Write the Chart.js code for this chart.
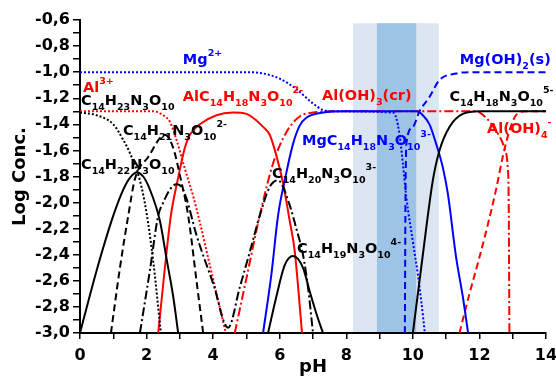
<!DOCTYPE html>
<html lang="en">
<head>
<meta charset="UTF-8">
<title>Speciation Al / Mg</title>
<script src="https://cdn.jsdelivr.net/npm/chart.js@4.4.0/dist/chart.umd.min.js"></script>
<style>
  html, body { margin: 0; padding: 0; background: #fff; }
</style>
</head>
<body>
<canvas id="myChart" width="556" height="378"></canvas>
<script>
// ---- data (pH, log conc.) ----
const phH5L  = [0, 0.5, 1.0, 1.3, 1.5, 1.8, 2.0, 2.2, 2.43];
const logH5L = [-1.31, -1.33, -1.40, -1.52, -1.62, -1.83, -2.08, -2.45, -3.0];

const phH4L  = [0, 0.5, 1.0, 1.3, 1.5, 1.7, 1.9, 2.1, 2.4, 2.6, 2.8, 2.95];
const logH4L = [-3.0, -2.52, -2.1, -1.9, -1.81, -1.77, -1.8, -1.9, -2.14, -2.43, -2.72, -3.0];

const phH3L  = [0.93, 1.2, 1.45, 1.65, 2.05, 2.55, 2.8, 3.0, 3.25, 3.5, 3.7];
const logH3L = [-3.0, -2.5, -2.1, -1.82, -1.65, -1.48, -1.58, -1.79, -2.1, -2.6, -3.0];

const phH2L  = [1.8, 2.1, 2.35, 2.5, 2.7, 2.9, 3.05, 3.2, 3.5, 4.0, 4.45, 4.8, 5.1, 5.4, 5.7, 5.95, 6.3, 6.5, 6.7, 6.85, 7.0];
const logH2L = [-3.0, -2.52, -2.1, -2.0, -1.9, -1.86, -1.88, -1.97, -2.25, -2.62, -2.96, -2.65, -2.38, -2.1, -1.88, -1.83, -2.02, -2.2, -2.4, -2.65, -3.0];

const phHL   = [5.65, 5.9, 6.15, 6.4, 6.7, 6.9, 7.1, 7.3];
const logHL  = [-3.0, -2.72, -2.48, -2.41, -2.5, -2.68, -2.85, -3.0];

const phL    = [10.0, 10.3, 10.6, 10.8, 11.1, 11.5, 12.0, 14.0];
const logL   = [-3.0, -2.4, -1.83, -1.6, -1.42, -1.32, -1.3, -1.3];

const phMg   = [0, 5.0, 5.5, 6.0, 6.5, 7.0, 7.3, 7.6, 9.4, 9.5, 9.6, 9.7, 9.8, 10.0, 10.15, 10.25, 10.36];
const logMg  = [-1.0, -1.0, -1.01, -1.05, -1.13, -1.24, -1.29, -1.3, -1.31, -1.35, -1.48, -1.7, -1.95, -2.3, -2.55, -2.75, -3.0];

const phMgOH2  = [9.76, 9.78, 9.82, 10.0, 10.2, 10.5, 10.8, 11.3, 11.8, 14.0];
const logMgOH2 = [-3.0, -1.9, -1.52, -1.42, -1.3, -1.19, -1.06, -1.01, -1.0, -1.0];

const phMgL  = [5.5, 5.75, 5.95, 6.2, 6.4, 6.6, 6.8, 7.3, 8.0, 10.1, 10.3, 10.5, 10.7, 10.9, 11.05, 11.3, 11.5, 11.66];
const logMgL = [-3.0, -2.55, -2.1, -1.77, -1.55, -1.41, -1.35, -1.31, -1.3, -1.3, -1.33, -1.4, -1.55, -1.73, -1.93, -2.42, -2.72, -3.0];

const phAl   = [0, 2.2, 2.5, 2.7, 2.9, 3.15, 3.4, 3.6, 3.9, 4.15, 4.38];
const logAl  = [-1.3, -1.3, -1.33, -1.38, -1.52, -1.74, -1.95, -2.15, -2.48, -2.75, -3.0];

const phAlL  = [2.35, 2.55, 2.73, 2.94, 3.15, 3.3, 3.6, 4.1, 4.6, 5.0, 5.3, 5.5, 5.7, 5.9, 6.1, 6.3, 6.45, 6.67];
const logAlL = [-3.0, -2.5, -2.1, -1.82, -1.58, -1.48, -1.4, -1.33, -1.31, -1.32, -1.37, -1.42, -1.48, -1.64, -1.85, -2.14, -2.37, -3.0];

const phAlOH3  = [4.65, 4.75, 5.0, 5.4, 5.8, 6.2, 6.6, 7.0, 7.5, 11.9, 12.2, 12.5, 12.75, 12.85, 12.88, 12.9];
const logAlOH3 = [-3.0, -2.88, -2.58, -2.1, -1.7, -1.46, -1.34, -1.31, -1.3, -1.3, -1.35, -1.45, -1.58, -1.73, -2.0, -3.0];

const phAlOH4  = [11.4, 11.7, 12.0, 12.26, 12.5, 12.7, 12.9, 13.1, 13.4, 14.0];
const logAlOH4 = [-3.0, -2.7, -2.42, -2.16, -1.9, -1.65, -1.45, -1.33, -1.3, -1.3];

// shaded pH windows
const bandOuter = [8.2, 10.78];
const bandInner = [8.92, 10.1];
const bandTop = -0.625;

// species labels: text, pH, log (left / baseline)
const labelText = ['Mg^{2+}', 'Al^{3+}', 'C_{14}H_{23}N_{3}O_{10}', 'C_{14}H_{21}N_{3}O_{10}^{2-}',
  'C_{14}H_{22}N_{3}O_{10}', 'AlC_{14}H_{18}N_{3}O_{10}^{2-}', 'Al(OH)_{3}(cr)', 'Mg(OH)_{2}(s)',
  'C_{14}H_{18}N_{3}O_{10}^{5-}', 'MgC_{14}H_{18}N_{3}O_{10}^{3-}', 'Al(OH)_{4}^{-}',
  'C_{14}H_{20}N_{3}O_{10}^{3-}', 'C_{14}H_{19}N_{3}O_{10}^{4-}'];
const labelPh  = [3.09, 0.09, 0.03, 1.29, 0.03, 3.09, 7.27, 11.41, 11.1, 6.67, 12.23, 5.77, 6.52];
const labelLog = [-0.94, -1.155, -1.254, -1.485, -1.74, -1.223, -1.215, -0.94, -1.223, -1.56, -1.47, -1.815, -2.39];

const BLACK = '#000000', RED = '#ff0000', BLUE = '#0000ff';
const labelColor = [BLUE, RED, BLACK, BLACK, BLACK, RED, RED, BLUE, BLACK, BLUE, RED, BLACK, BLACK];

const DOT = [2, 2], DASH = [7, 4], DASHDOT = [9, 3, 2, 3];

function pts(xs, ys) {
    return xs.map((x, i) => ({ x: x, y: ys[i] }));
}
function serie(xs, ys, color, dash) {
    return {
        data: pts(xs, ys),
        borderColor: color,
        borderWidth: 2,
        borderDash: dash || [],
        pointRadius: 0,
        fill: false,
        cubicInterpolationMode: 'monotone'
    };
}

// draws "C_{14}H^{2-}" style text with sub / superscripts
function drawChem(ctx, str, x, y, color) {
    const re = /([_^])\{([^}]*)\}|([^_^]+)/g;
    let m;
    ctx.fillStyle = color;
    ctx.textBaseline = 'alphabetic';
    ctx.textAlign = 'left';
    while ((m = re.exec(str)) !== null) {
        if (m[3]) {
            ctx.font = 'bold 14.5px "DejaVu Sans"';
            ctx.fillText(m[3], x, y);
            x += ctx.measureText(m[3]).width;
        } else {
            ctx.font = 'bold 9.5px "DejaVu Sans"';
            const dy = m[1] === '_' ? 5 : -8;
            ctx.fillText(m[2], x, y + dy);
            x += ctx.measureText(m[2]).width;
        }
    }
}

const bandPlugin = {
    id: 'bands',
    beforeDraw(chart) {
        const { ctx, scales: { x, y } } = chart;
        const top = y.getPixelForValue(bandTop);
        const bot = y.getPixelForValue(-3);
        ctx.save();
        ctx.fillStyle = '#dce6f2';
        let a = x.getPixelForValue(bandOuter[0]), b = x.getPixelForValue(bandOuter[1]);
        ctx.fillRect(a, top, b - a, bot - top);
        ctx.fillStyle = '#9dc3e6';
        a = x.getPixelForValue(bandInner[0]); b = x.getPixelForValue(bandInner[1]);
        ctx.fillRect(a, top, b - a, bot - top);
        ctx.restore();
    }
};

const labelPlugin = {
    id: 'labels',
    afterDatasetsDraw(chart) {
        const { ctx, scales: { x, y } } = chart;
        ctx.save();
        labelText.forEach((t, i) => {
            drawChem(ctx, t, x.getPixelForValue(labelPh[i]), y.getPixelForValue(labelLog[i]), labelColor[i]);
        });
        ctx.restore();
    }
};

const tickFont = { family: 'DejaVu Sans', weight: 'bold', size: 16 };
const titleFont = { family: 'DejaVu Sans', weight: 'bold', size: 18 };

const ctx = document.getElementById('myChart').getContext('2d');
const myChart = new Chart(ctx, {
    type: 'line',
    data: {
        datasets: [
            serie(phL, logL, BLACK),
            serie(phH5L, logH5L, BLACK, DOT),
            serie(phH4L, logH4L, BLACK),
            serie(phH3L, logH3L, BLACK, DASH),
            serie(phH2L, logH2L, BLACK, DASHDOT),
            serie(phHL, logHL, BLACK),
            serie(phMg, logMg, BLUE, DOT),
            serie(phMgOH2, logMgOH2, BLUE, DASH),
            serie(phMgL, logMgL, BLUE),
            serie(phAl, logAl, RED, DOT),
            serie(phAlL, logAlL, RED),
            serie(phAlOH3, logAlOH3, RED, DASHDOT),
            serie(phAlOH4, logAlOH4, RED, DASH)
        ]
    },
    options: {
        responsive: false,
        animation: false,
        layout: { padding: { left: 0, right: 0, top: 20, bottom: 0 } },
        plugins: {
            legend: { display: false },
            tooltip: { enabled: false }
        },
        scales: {
            x: {
                type: 'linear',
                min: 0,
                max: 14,
                ticks: {
                    stepSize: 1,
                    autoSkip: false,
                    maxRotation: 0,
                    padding: 7,
                    color: '#000',
                    font: tickFont,
                    callback: v => (v % 2 === 0 ? v : '')
                },
                grid: { drawOnChartArea: false, tickLength: 6, color: '#000', lineWidth: 1.5 },
                border: { color: '#000', width: 2 },
                title: { display: true, text: 'pH', color: '#000', font: titleFont, padding: { top: 0, bottom: 0 } },
                afterFit: s => { s.height = 45; s.paddingLeft = 0; s.paddingRight = 10; }
            },
            y: {
                type: 'linear',
                min: -3,
                max: -0.6,
                ticks: {
                    stepSize: 0.1,
                    autoSkip: false,
                    padding: 3,
                    color: '#000',
                    font: tickFont,
                    callback: v => (Math.round(v * 10) % 2 === 0 ? v.toFixed(1).replace('.', ',') : '')
                },
                grid: { drawOnChartArea: false, tickLength: 7, color: '#000', lineWidth: 1.5 },
                border: { color: '#000', width: 2 },
                title: { display: true, text: 'Log Conc.', color: '#000', font: titleFont, padding: { top: 10, bottom: 0 } },
                afterFit: s => { s.width = 80; }
            }
        }
    },
    plugins: [bandPlugin, labelPlugin]
});
</script>
</body>
</html>
